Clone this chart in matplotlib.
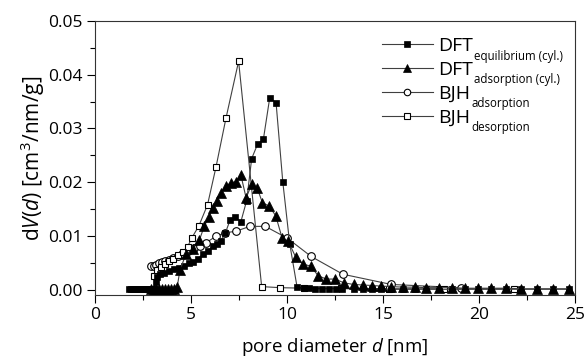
import matplotlib
matplotlib.use("Agg")
import matplotlib.pyplot as plt
from matplotlib.ticker import MultipleLocator, FormatStrFormatter

plt.rcParams['font.family'] = ['Open Sans', 'DejaVu Sans']
plt.rcParams['mathtext.fontset'] = 'custom'
plt.rcParams['mathtext.rm'] = 'Open Sans'
plt.rcParams['mathtext.it'] = 'Open Sans:italic'

# DFT equilibrium (cyl.)
dft_eq_d = [1.77, 1.9, 2.0, 2.1, 2.2, 2.3, 2.4, 2.5, 2.6, 2.7, 2.8, 2.9, 3.0, 3.1,
            3.17, 3.25, 3.37, 3.6, 3.86, 4.12, 4.38, 4.65, 4.87, 5.11, 5.34, 5.6,
            5.86, 6.12, 6.35, 6.56, 6.79, 7.03, 7.29, 7.6, 7.9, 8.16, 8.47, 8.77,
            9.1, 9.43, 9.78, 10.14, 10.52, 10.86, 11.17, 11.48, 11.83, 12.18, 12.53,
            12.88, 13.47, 13.95, 14.44, 14.91, 15.43, 16.04, 16.65, 17.26, 17.92,
            18.57, 19.26, 19.96, 20.65, 21.4, 22.17, 23.0, 23.84, 24.67]
dft_eq_v = [0.0001, 0.0001, 0.0001, 0.0001, 0.0001, 0.0001, 0.0001, 0.0001, 0.0001,
            0.0001, 0.0001, 0.0001, 0.0002, 0.0002,
            0.0014, 0.0023, 0.0029, 0.0032, 0.0035, 0.0038, 0.0041, 0.0044, 0.0049,
            0.0052, 0.0057, 0.0066, 0.0072, 0.0081, 0.0086, 0.0091, 0.0106, 0.0129,
            0.0135, 0.0127, 0.0166, 0.0244, 0.0271, 0.0280, 0.0357, 0.0348, 0.0201,
            0.0086, 0.0006, 0.0003, 0.0003, 0.0002, 0.0002, 0.0002, 0.0002, 0.0002,
            0.0002, 0.0002, 0.0002, 0.0002, 0.0001, 0.0001, 0.0001, 0.0001, 0.0001,
            0.0001, 0.0001, 0.0001, 0.0001, 0.0001, 0.0001, 0.0001, 0.0001, 0.0001]

# DFT adsorption (cyl.)
dft_ad_d = [2.9, 3.05, 3.2, 3.35, 3.5, 3.65, 3.8, 3.95, 4.1, 4.28,
            4.42, 4.73, 5.08, 5.43, 5.69, 5.92, 6.12, 6.35, 6.56, 6.82, 7.08, 7.34,
            7.6, 7.87, 8.16, 8.45, 8.72, 9.06, 9.41, 9.74, 10.07, 10.45, 10.83,
            11.23, 11.63, 12.05, 12.5, 12.97, 13.47, 13.95, 14.44, 14.91, 15.43,
            16.04, 16.65, 17.26, 17.92, 18.57, 19.26, 19.96, 20.65, 21.4, 22.17,
            23.0, 23.84, 24.67]
dft_ad_v = [0.0001, 0.0001, 0.0001, 0.0001, 0.0001, 0.0001, 0.0001, 0.0001, 0.0002,
            0.0005, 0.0036, 0.0066, 0.0075, 0.0092, 0.0118, 0.0135, 0.0152, 0.0166,
            0.0180, 0.0193, 0.0199, 0.0201, 0.0213, 0.0171, 0.0196, 0.0189, 0.0162,
            0.0156, 0.0138, 0.0097, 0.0090, 0.0061, 0.0048, 0.0044, 0.0026, 0.0020,
            0.0020, 0.0013, 0.0010, 0.0009, 0.0008, 0.0007, 0.0006, 0.0005, 0.0005,
            0.0004, 0.0004, 0.0004, 0.0003, 0.0003, 0.0003, 0.0003, 0.0002, 0.0002,
            0.0002, 0.0002]

# BJH adsorption
bjh_ad_d = [2.9, 3.05, 3.2, 3.35, 3.5, 3.67, 3.85, 4.05, 4.3, 4.55, 4.85, 5.15,
            5.45, 5.8, 6.32, 6.79, 7.34, 8.07, 8.87, 10.02, 11.26, 12.91, 15.43, 19.05]
bjh_ad_v = [0.0044, 0.0045, 0.0047, 0.0049, 0.0051, 0.0054, 0.0056, 0.0059, 0.0063,
            0.0067, 0.0072, 0.0077, 0.0081, 0.0088, 0.0100, 0.0106, 0.0109, 0.0118,
            0.0118, 0.0096, 0.0062, 0.0029, 0.0010, 0.0004]

# BJH desorption
bjh_de_d = [3.07, 3.25, 3.45, 3.65, 3.85, 4.05, 4.3, 4.56, 4.82, 5.05, 5.41, 5.86,
            6.30, 6.82, 7.48, 8.68, 9.64, 10.9, 12.8, 15.3, 18.2, 21.8]
bjh_de_v = [0.0025, 0.0036, 0.0043, 0.0048, 0.0053, 0.0058, 0.0064, 0.0070, 0.0080,
            0.0097, 0.0119, 0.0158, 0.0228, 0.0319, 0.0425, 0.0006, 0.0004, 0.0003,
            0.0003, 0.0002, 0.0002, 0.0002]

series_names = ['DFT', 'DFT', 'BJH', 'BJH']
series_subs = ['equilibrium (cyl.)', 'adsorption (cyl.)', 'adsorption', 'desorption']

fig = plt.figure(figsize=(5.85, 3.61), dpi=100)
ax = fig.add_axes([0.1624, 0.183, 0.8205, 0.759])

lc = '#404040'
lw = 0.8
l_eq, = ax.plot(dft_eq_d, dft_eq_v, color=lc, lw=lw, marker='s', ms=5, mfc='black',
                mec='black', mew=0.5, zorder=3)
l_ad, = ax.plot(dft_ad_d, dft_ad_v, color=lc, lw=lw, marker='^', ms=6.5, mfc='black',
                mec='black', mew=0.5, zorder=3)
l_bad, = ax.plot(bjh_ad_d, bjh_ad_v, color=lc, lw=lw, marker='o', ms=5.5, mfc='white',
                 mec='black', mew=0.8, zorder=2)
l_bde, = ax.plot(bjh_de_d, bjh_de_v, color=lc, lw=lw, marker='s', ms=5, mfc='white',
                 mec='black', mew=0.8, zorder=2)
ax.set_zorder(1)

ax.set_xlim(0, 25)
ax.set_ylim(-0.00095, 0.05)
ax.xaxis.set_major_locator(MultipleLocator(5))
ax.xaxis.set_minor_locator(MultipleLocator(2.5))
ax.yaxis.set_major_locator(MultipleLocator(0.01))
ax.yaxis.set_minor_locator(MultipleLocator(0.005))
ax.yaxis.set_major_formatter(FormatStrFormatter('%.2f'))
ax.tick_params(which='major', direction='out', length=6, width=0.8, labelsize=12.5,
               colors='black', pad=3)
ax.tick_params(which='minor', direction='out', length=3.5, width=0.8)
for s in ax.spines.values():
    s.set_linewidth(0.8)
    s.set_color('#333333')

ax.set_xlabel(r'pore diameter $d$ [nm]', fontsize=13.5, labelpad=9)
ax.set_ylabel(r'd$V$($d$) [cm$^3$/nm/g]', fontsize=15, labelpad=1)

leg = ax.legend([l_eq, l_ad, l_bad, l_bde], series_names, loc='upper left',
                bbox_to_anchor=(0.57, 0.99), frameon=False, fontsize=14,
                handlelength=2.6, handletextpad=0.3, labelspacing=0.3,
                markerscale=0.85, borderpad=0.2)

fig.canvas.draw()
renderer = fig.canvas.get_renderer()
inv = fig.transFigure.inverted()
for t, sub in zip(leg.get_texts(), series_subs):
    bb = t.get_window_extent(renderer)
    # baseline approx: bottom of bbox plus font descent
    base_y = bb.y0 + 0.24 * 14 * 100 / 72
    x, y = inv.transform((bb.x1 + 1, base_y + 1))
    fig.text(x, y, sub, fontsize=8.3, va='top', ha='left')

fig.savefig('out.png', dpi=100)
